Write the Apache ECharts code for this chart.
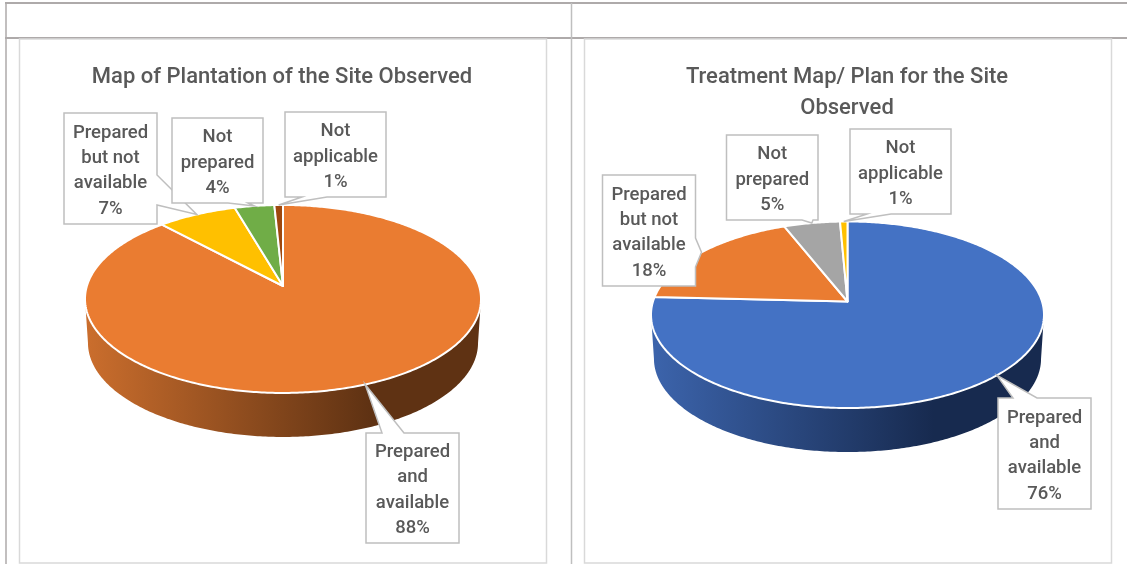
<!DOCTYPE html>
<html>
<head>
<meta charset="utf-8">
<title>Site plans</title>
<style>
  html, body { margin: 0; padding: 0; background: #fff; }
  #main { width: 1127px; height: 564px; }
</style>
<script src="https://cdn.jsdelivr.net/npm/echarts@6/dist/echarts.min.js"></script>
</head>
<body>
<div id="main"></div>
<script>
// values (rounded ones are what the callouts show)
const categories = ['Prepared\nand\navailable', 'Prepared\nbut not\navailable', 'Not\nprepared', 'Not\napplicable'];
const plantationValues = [88.1, 7.4, 3.7, 0.8];
const treatmentValues = [75.8, 18.2, 5.3, 0.7];

const plantationColors = ['#ea7c31', '#ffc000', '#70ad47', '#9e480e'];
const treatmentColors = ['#4472c4', '#ea7c31', '#a5a5a5', '#ffc000'];

const plantationWall = ['#cb6e2d', '#5f3213'];
const treatmentWall = ['#3c64ac', '#172a4f'];

// perspective of the 3d pie: apex is above the middle of the ellipse
const plantationPie = { cx: 283, cy: 286, d: 196.1, b: 92.2, a: 0.138, depth: 44, shrink: 0.985 };
const treatmentPie = { cx: 847.5, cy: 301.5, d: 194.5, b: 91.4, a: 0.142, depth: 44, shrink: 0.985 };

// callout boxes, same order as categories
const plantationBoxes = [
  { x: 366, y: 433, w: 93, h: 110, side: 'top', base: [382, 404] },
  { x: 64, y: 113, w: 93, h: 111, side: 'right', base: [175, 205] },
  { x: 172, y: 118, w: 91, h: 85, side: 'bottom', base: [228, 248] },
  { x: 285, y: 112, w: 101, h: 85, side: 'bottom', base: [302, 327] }
];
const treatmentBoxes = [
  { x: 998, y: 398, w: 93, h: 111, side: 'top', base: [1013, 1037] },
  { x: 602.5, y: 175, w: 93, h: 111, side: 'right', base: [238, 267] },
  { x: 726.5, y: 135, w: 91.5, h: 85, side: 'bottom', base: [802, 813] },
  { x: 850, y: 129, w: 101, h: 85, side: 'bottom', base: [867, 891] }
];

const TEXT_COLOR = '#595959';
const FONT_FAMILY = 'Roboto, "Noto Sans", sans-serif';

function rimPoint(pie, theta) {
  const x = Math.sin(theta);
  const y = -Math.cos(theta);
  const w = 1 - pie.a * y;
  return [pie.cx + pie.d * x / w, pie.cy + pie.b * y / w];
}

function rimArc(pie, t0, t1) {
  const pts = [];
  const n = Math.max(2, Math.ceil((t1 - t0) / 0.012));
  for (let i = 0; i <= n; i++) {
    pts.push(rimPoint(pie, t0 + (t1 - t0) * i / n));
  }
  return pts;
}

// rows of [value, start share, end share] so each slice knows where it sits
function buildRows(values) {
  const total = values.reduce((s, v) => s + v, 0);
  let acc = 0;
  return values.map(v => {
    const row = [v / total * 100, acc / total, (acc + v) / total];
    acc += v;
    return row;
  });
}

function sliceRenderer(pie, colors, wall) {
  return function (params, api) {
    const t0 = api.value(1) * Math.PI * 2;
    const t1 = api.value(2) * Math.PI * 2;
    const children = [];

    // side wall only for the part of the rim that faces the viewer
    const lo = Math.acos(-pie.a);
    const hi = Math.PI * 2 - lo;
    const v0 = Math.max(t0, lo);
    const v1 = Math.min(t1, hi);
    if (v1 > v0) {
      const arc = rimArc(pie, v0, v1);
      const under = arc.map(p => [pie.cx + (p[0] - pie.cx) * pie.shrink, p[1] + pie.depth]).reverse();
      children.push({
        type: 'polygon',
        shape: { points: arc.concat(under) },
        style: {
          fill: new echarts.graphic.LinearGradient(0, 0, 1, 0, [
            { offset: 0, color: wall[0] },
            { offset: 0.72, color: wall[1] },
            { offset: 1, color: wall[1] }
          ])
        }
      });
    }

    children.push({
      type: 'polygon',
      shape: { points: [[pie.cx, pie.cy]].concat(rimArc(pie, t0, t1)) },
      style: { fill: colors[params.dataIndex], stroke: '#fff', lineWidth: 2, lineJoin: 'round' }
    });
    return { type: 'group', children: children };
  };
}

function calloutRenderer(pie, boxes) {
  return function (params, api) {
    const box = boxes[params.dataIndex];
    const mid = (api.value(1) + api.value(2)) * Math.PI;
    const tip = rimPoint(pie, mid);
    const l = box.x, r = box.x + box.w, t = box.y, b = box.y + box.h;
    const pts = [[l, t]];
    if (box.side === 'top') pts.push([box.base[0], t], tip, [box.base[1], t]);
    pts.push([r, t]);
    if (box.side === 'right') pts.push([r, box.base[0]], tip, [r, box.base[1]]);
    pts.push([r, b]);
    if (box.side === 'bottom') pts.push([box.base[1], b], tip, [box.base[0], b]);
    pts.push([l, b]);
    return {
      type: 'group',
      children: [
        {
          type: 'polygon',
          shape: { points: pts },
          style: { fill: '#fff', stroke: '#bfbfbf', lineWidth: 1.5 }
        },
        {
          type: 'text',
          style: {
            text: categories[params.dataIndex] + '\n' + Math.round(api.value(0)) + '%',
            x: (l + r) / 2,
            y: (t + b) / 2 + 2.5,
            align: 'center',
            verticalAlign: 'middle',
            fill: TEXT_COLOR,
            font: '500 18.5px ' + FONT_FAMILY,
            lineHeight: 25.4
          }
        }
      ]
    };
  };
}

function pieSeries(name, values, pie, colors, wall, boxes) {
  const rows = buildRows(values);
  return [
    { type: 'custom', name: name, coordinateSystem: 'none', data: rows, z: 2, renderItem: sliceRenderer(pie, colors, wall) },
    { type: 'custom', name: name + ' labels', coordinateSystem: 'none', data: rows, z: 3, renderItem: calloutRenderer(pie, boxes) }
  ];
}

function frameLine(x1, y1, x2, y2, color, width) {
  return { type: 'line', shape: { x1: x1, y1: y1, x2: x2, y2: y2 }, style: { stroke: color, lineWidth: width }, silent: true };
}

const titleStyle = { color: TEXT_COLOR, fontFamily: FONT_FAMILY, fontWeight: 500, fontSize: 22, lineHeight: 31 };

const option = {
  animation: false,
  backgroundColor: '#fff',
  title: [
    { text: 'Map of Plantation of the Site Observed', left: 282, top: 62, textAlign: 'center', padding: 0, textStyle: titleStyle },
    { text: 'Treatment Map/ Plan for the Site\nObserved', left: 847, top: 62, textAlign: 'center', padding: 0, textStyle: titleStyle }
  ],
  graphic: [
    frameLine(5, 3, 1127, 3, '#aeaaaa', 2),
    frameLine(5, 38, 1127, 38, '#aeaaaa', 2),
    frameLine(6, 3, 6, 564, '#aeaaaa', 1.5),
    frameLine(571.5, 3, 571.5, 564, '#bfbfbf', 1.5),
    { type: 'rect', shape: { x: 19.5, y: 39, width: 527, height: 524 }, style: { fill: null, stroke: '#d9d9d9', lineWidth: 1.5 }, silent: true },
    { type: 'rect', shape: { x: 584.5, y: 39, width: 527, height: 524 }, style: { fill: null, stroke: '#d9d9d9', lineWidth: 1.5 }, silent: true }
  ],
  series: pieSeries('Map of Plantation', plantationValues, plantationPie, plantationColors, plantationWall, plantationBoxes)
    .concat(pieSeries('Treatment Map', treatmentValues, treatmentPie, treatmentColors, treatmentWall, treatmentBoxes))
};

const myChart = echarts.init(document.getElementById('main'));
myChart.setOption(option);
</script>
</body>
</html>
